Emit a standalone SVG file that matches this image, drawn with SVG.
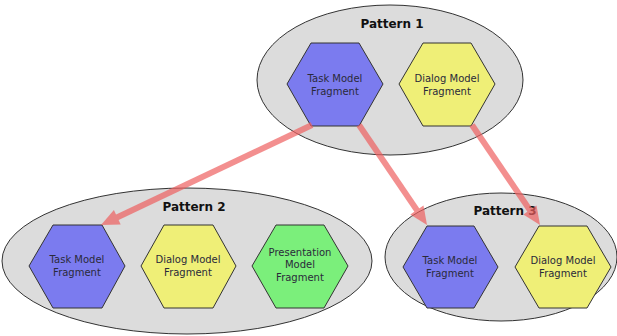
<svg xmlns="http://www.w3.org/2000/svg" width="617" height="336" viewBox="0 0 617 336">
<style>
.pat{fill:#dcdcdc;stroke:#333;stroke-width:1}
.title{font-family:"DejaVu Sans",Verdana,sans-serif;font-weight:bold;font-size:12px;fill:#111;text-anchor:middle}
.hex{stroke:#333;stroke-width:1}
.task{fill:#7b7bef}
.dlg{fill:#efef77}
.pres{fill:#7bef7b}
.lbl{font-family:"DejaVu Sans",Verdana,sans-serif;font-size:10px;fill:#2a2a3a;text-anchor:middle}
.arr{opacity:0.7}
.arr line{stroke:#ee6060;stroke-width:6;fill:none}
.arr polygon{fill:#ee6060}
</style>

<g id="pattern1">
<ellipse class="pat" cx="390" cy="80" rx="133" ry="75"/>
<text class="title" x="392" y="28">Pattern 1</text>
</g>
<g id="pattern2">
<ellipse class="pat" cx="187" cy="261" rx="185" ry="73"/>
<text class="title" x="194" y="211">Pattern 2</text>
</g>
<g id="pattern3">
<ellipse class="pat" cx="501" cy="257" rx="116" ry="64"/>
<text class="title" x="505" y="215">Pattern 3</text>
</g>

<g id="p1-task">
<polygon class="hex task" points="311,43 359,43 383,84 359,126 311,126 287,84"/>
<text class="lbl" x="335" y="82">Task Model</text>
<text class="lbl" x="335" y="95">Fragment</text>
</g>
<g id="p1-dialog">
<polygon class="hex dlg" points="423,43 471,43 495,84 471,126 423,126 399,84"/>
<text class="lbl" x="447" y="82">Dialog Model</text>
<text class="lbl" x="447" y="95">Fragment</text>
</g>

<g id="p2-task">
<polygon class="hex task" points="53,225 102,225 125,266 102,308 53,308 29,266"/>
<text class="lbl" x="77" y="263">Task Model</text>
<text class="lbl" x="77" y="276">Fragment</text>
</g>
<g id="p2-dialog">
<polygon class="hex dlg" points="164,225 213,225 236,266 213,308 164,308 141,266"/>
<text class="lbl" x="188" y="263">Dialog Model</text>
<text class="lbl" x="188" y="276">Fragment</text>
</g>
<g id="p2-presentation">
<polygon class="hex pres" points="276,225 324,225 348,266 324,308 276,308 252,266"/>
<text class="lbl" x="300" y="256">Presentation</text>
<text class="lbl" x="300" y="268">Model</text>
<text class="lbl" x="300" y="281">Fragment</text>
</g>

<g id="p3-task">
<polygon class="hex task" points="427,226 474,226 498,267 474,308 427,308 403,267"/>
<text class="lbl" x="450" y="264">Task Model</text>
<text class="lbl" x="450" y="277">Fragment</text>
</g>
<g id="p3-dialog">
<polygon class="hex dlg" points="539,226 587,226 611,267 587,308 539,308 515,267"/>
<text class="lbl" x="563" y="264">Dialog Model</text>
<text class="lbl" x="563" y="277">Fragment</text>
</g>

<g id="connectors">
<g class="arr"><line x1="312" y1="125" x2="113.7" y2="219"/><polygon points="101,225 120.7,224.5 113.9,210.1"/></g>
<g class="arr"><line x1="359" y1="125" x2="419.1" y2="213.4"/><polygon points="427,225 410.3,214.6 423.5,205.6"/></g>
<g class="arr"><line x1="472" y1="125" x2="532.1" y2="213.4"/><polygon points="540,225 523.3,214.6 536.5,205.6"/></g>
</g>
</svg>
